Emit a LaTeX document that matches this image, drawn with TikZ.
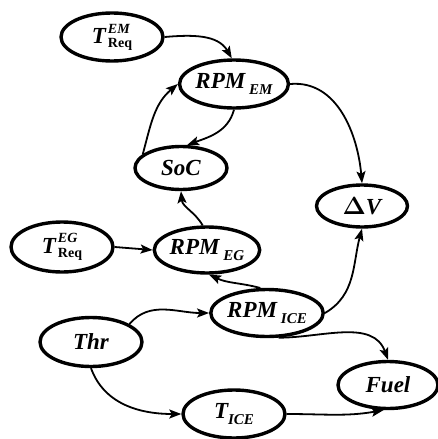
\documentclass[tikz,border=0pt]{standalone}
\usepackage{amsmath}
\usepackage{fontspec}
\setmainfont{Liberation Serif}
\usetikzlibrary{arrows.meta,shapes.geometric}
\begin{document}
\begin{tikzpicture}[x=1pt,y=-1pt,
  every node/.style={font=\fontsize{23}{26}\selectfont\bfseries\itshape},
  st/.style={draw,ellipse,line width=3.4pt,minimum width=102pt,minimum height=48pt,inner sep=0pt},
  ar/.style={line width=1.8pt,-{Stealth[length=12pt,width=9pt,inset=2.5pt]}}]
\useasboundingbox (0,0) rectangle (438,439);
\newcommand{\sbx}[1]{\raisebox{-6pt}{\fontsize{15}{15}\selectfont #1}}
\newcommand{\treq}[1]{T\hspace{2pt}\raisebox{-4pt}{\fontsize{14}{14}\selectfont\shortstack[l]{#1\\[2pt]\upshape Req}}}
\node[st] (treqem) at (112,37) {\treq{EM}};
\node[st] (rpmem) at (234,84) {RPM\,\sbx{EM}};
\node[st,minimum width=92pt,minimum height=43pt] (soc) at (181,168) {SoC};
\node[st,minimum width=91pt,minimum height=42pt] (dv) at (362,206) {\upshape$\boldsymbol{\Delta}$\itshape V};
\node[st,minimum height=50pt] (treqeg) at (62,247) {\treq{EG}};
\node[st,minimum width=101pt,minimum height=46pt] (rpmeg) at (207,250) {RPM\,\sbx{EG}};
\node[st,minimum width=101pt,minimum height=47pt] (rpmice) at (267,313) {RPM\,\sbx{ICE}};
\node[st,minimum height=49pt] (thr) at (91,342) {Thr};
\node[st] (tice) at (234,414) {T\sbx{ICE}};
\node[st,minimum width=100pt,minimum height=47pt] (fuel) at (388,385) {Fuel};
\draw[ar] (treqem.east) to[out=5,in=120] (rpmem.95);
\draw[ar] (rpmem.east) to[out=5,in=95] (dv.north);
\draw[ar] (rpmem.south) to[out=-105,in=20] (soc.75);
\draw[ar] (soc.160) to[out=75,in=220] (rpmem.west);
\draw[ar] (rpmeg.100) to[out=120,in=-85] (soc.south);
\draw[ar] (treqeg.east) -- (rpmeg.west);
\draw[ar] (rpmice.105) to[out=165,in=-25] (rpmeg.-85);
\draw[ar] (rpmice.east) to[out=30,in=-105] (dv.south);
\draw[ar] (thr.25) to[out=50,in=180] (rpmice.west);
\draw[ar] (rpmice.-65) to[out=0,in=110] (fuel.north);
\draw[ar] (thr.-90) to[out=-70,in=180] (tice.west);
\draw[ar] (tice.east) to[out=0,in=190] (fuel.-100);
\end{tikzpicture}
\end{document}
